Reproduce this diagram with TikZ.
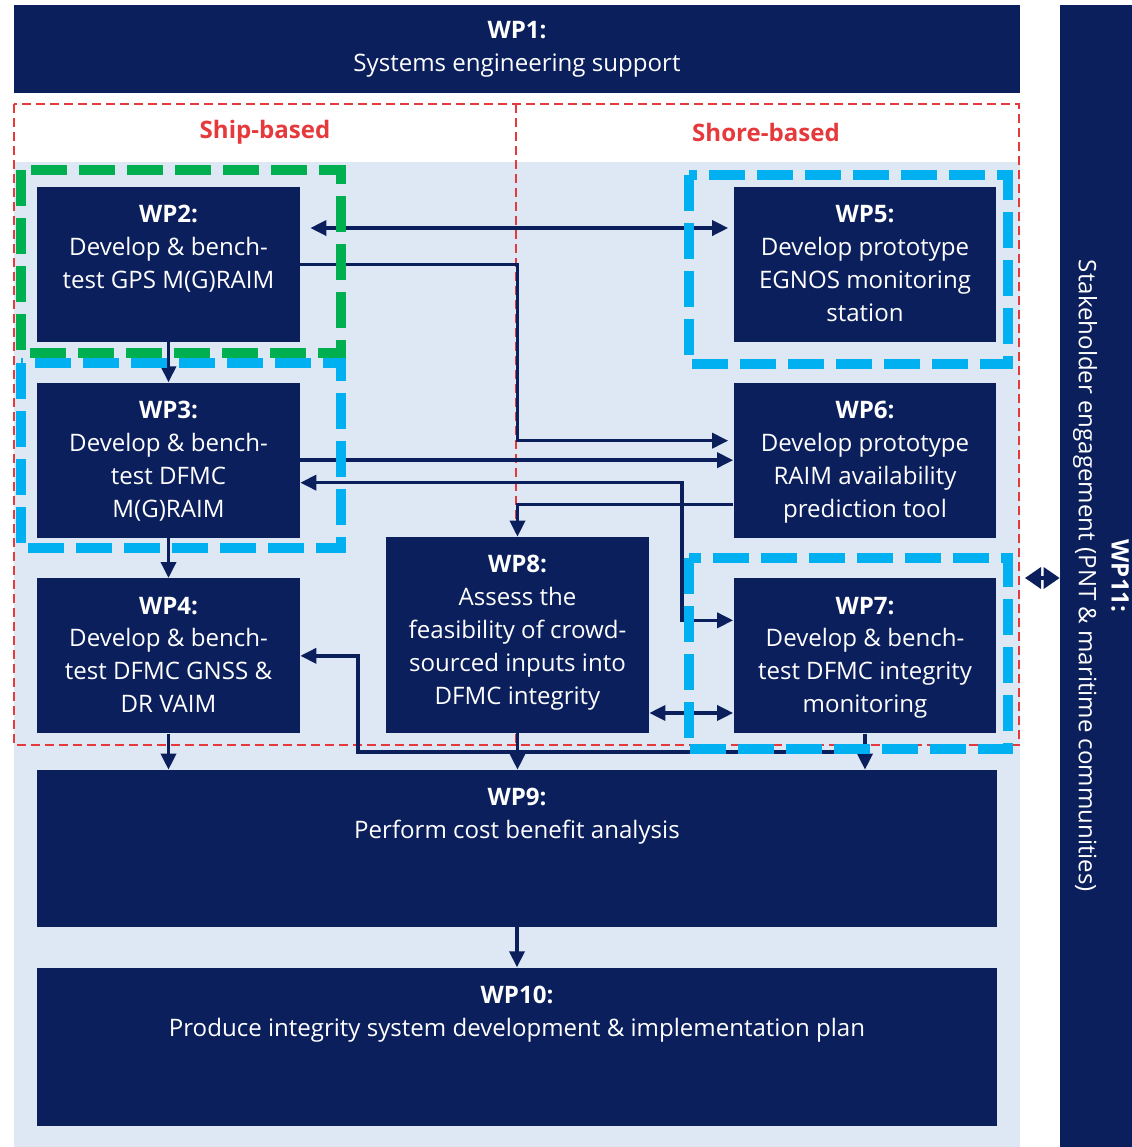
\documentclass[tikz,border=0pt]{standalone}
\usepackage{fontspec}
\setmainfont{Open Sans}
\usetikzlibrary{arrows.meta, positioning}

\definecolor{wpnavy}{HTML}{0B1F5C}
\definecolor{wpsky}{HTML}{DEE8F5}
\definecolor{wpred}{HTML}{E5393C}
\definecolor{wpgreen}{HTML}{00B050}
\definecolor{wpcyan}{HTML}{00B0F0}

\begin{document}
\begin{tikzpicture}[
    x=0.02cm, y=-0.02cm,
    node distance=0.8cm,
    font=\fontsize{13.7}{18.7}\selectfont,
    wpbox/.style={rectangle, fill=wpnavy, inner sep=0pt, minimum width=5.26cm, minimum height=3.1cm},
    wptext/.style={text=white, align=center, inner sep=0pt},
    region/.style={text=wpred, font=\fontsize{13.7}{18.7}\selectfont\bfseries},
    divider/.style={draw=wpred, line width=1.1pt, dash pattern=on 0.18cm off 0.1cm},
    wpframe/.style={draw=#1, line width=5.5pt, dash pattern=on 0.72cm off 0.24cm},
    arrow/.style={draw=wpnavy, line width=2pt, -{Triangle[length=0.32cm, width=0.3cm]}},
    twoway/.style={arrow, {Triangle[length=0.32cm, width=0.3cm]}-{Triangle[length=0.32cm, width=0.3cm]}},
    bigway/.style={arrow, {Triangle[length=0.32cm, width=0.42cm]}-{Triangle[length=0.32cm, width=0.42cm]}}
]
    \useasboundingbox (0,0) rectangle (1132,1147);
    \fill[wpsky] (14,162) rectangle (1020,1147);

    % Ship / shore split
    \draw[divider] (14,104) rectangle (1019,745);
    \draw[divider] (516,104) -- (516,745);
    \node[region] (ship) at (265,132) {Ship-based};
    \node[region] (shore) at (766,132) {Shore-based};

    % Outer work packages
    \node[wpbox, minimum width=20.12cm, minimum height=1.76cm] (wp1) at (517,49) {};
    \node[wptext] (wp1txt) at (wp1) {\textbf{WP1:}\\Systems engineering support};
    \node[wpbox, minimum width=1.44cm, minimum height=22.84cm] (wp11) at (1096,576) {};
    \node[wptext, rotate=-90] (wp11txt) at ([xshift=0.1cm]wp11.center) {\textbf{WP11:}\\Stakeholder engagement (PNT \& maritime communities)};

    % Ship-based column
    \node[wpbox] (wp2) at (168.5,264.5) {};
    \node[wpbox, below=of wp2] (wp3) {};
    \node[wpbox, below=of wp3] (wp4) {};
    \node[wptext, below=0.37cm of wp2.north] (wp2txt) {\textbf{WP2:}\\Develop \& bench-\\test GPS M(G)RAIM};
    \node[wptext, below=0.37cm of wp3.north] (wp3txt) {\textbf{WP3:}\\Develop \& bench-\\test DFMC\\M(G)RAIM};
    \node[wptext, below=0.37cm of wp4.north] (wp4txt) {\textbf{WP4:}\\Develop \& bench-\\test DFMC GNSS \&\\DR VAIM};

    % Shore-based column
    \node[wpbox] (wp5) at (865,264.5) {};
    \node[wpbox, below=of wp5] (wp6) {};
    \node[wpbox, below=of wp6] (wp7) {};
    \node[wptext, below=0.37cm of wp5.north] (wp5txt) {\textbf{WP5:}\\Develop prototype\\EGNOS monitoring\\station};
    \node[wptext, below=0.37cm of wp6.north] (wp6txt) {\textbf{WP6:}\\Develop prototype\\RAIM availability\\prediction tool};
    \node[wptext, below=0.37cm of wp7.north] (wp7txt) {\textbf{WP7:}\\Develop \& bench-\\test DFMC integrity\\monitoring};

    % Middle and bottom
    \node[wpbox, minimum height=3.92cm] (wp8) at (517.5,635) {};
    \node[wptext, below=0.37cm of wp8.north] (wp8txt) {\textbf{WP8:}\\Assess the\\feasibility of crowd-\\sourced inputs into\\DFMC integrity};
    \node[wpbox, minimum width=19.2cm, minimum height=3.14cm] (wp9) at (517,848.5) {};
    \node[wpbox, minimum width=19.2cm, minimum height=3.16cm, below=of wp9] (wp10) {};
    \node[wptext, below=0.37cm of wp9.north] (wp9txt) {\textbf{WP9:}\\Perform cost benefit analysis};
    \node[wptext, below=0.37cm of wp10.north] (wp10txt) {\textbf{WP10:}\\Produce integrity system development \& implementation plan};

    % Links
    \coordinate (bypass) at (358,752);
    \coordinate (stake) at (1025,578);
    \draw[twoway, shorten <=0.2cm, shorten >=0.1cm] ([yshift=0.73cm]wp2.east) -- ([yshift=0.73cm]wp5.west);
    \draw[arrow, shorten >=0.1cm] (wp2.east) -- (wp2.east -| wp8.north) |- ([yshift=0.39cm]wp6.west);
    \draw[arrow] (wp3.east) -- (wp6.west);
    \draw[twoway] ([yshift=-0.45cm]wp3.east) -| ([xshift=-1.02cm, yshift=0.71cm]wp7.west) -- ([yshift=0.71cm]wp7.west);
    \draw[arrow] ([yshift=-0.89cm]wp6.west) -| (wp8.north);
    \draw[twoway] ([yshift=-1.56cm]wp8.east) -- ([yshift=-1.56cm]wp8.east -| wp7.west);
    \draw[arrow] (wp7.south) |- (bypass) |- (wp4.east);
    \draw[arrow] (wp7.south) -- (wp7.south |- wp9.north);
    \draw[arrow] (wp2) -- (wp3);
    \draw[arrow] (wp3) -- (wp4);
    \draw[arrow] (wp4.south) -- (wp4.south |- wp9.north);
    \draw[arrow] (wp8.south) -- (wp8.south |- wp9.north);
    \draw[arrow] (wp9) -- (wp10);
    \draw[bigway] (stake) -- (stake -| wp11.west);

    % Highlight frames
    \draw[wpframe=wpgreen] (21,170) rectangle (341,353);
    \draw[wpframe=wpcyan] (21,363) rectangle (341,548);
    \draw[wpframe=wpcyan] (689,175) rectangle (1008,364);
    \draw[wpframe=wpcyan] (689,558) rectangle (1008,749);
\end{tikzpicture}
\end{document}
